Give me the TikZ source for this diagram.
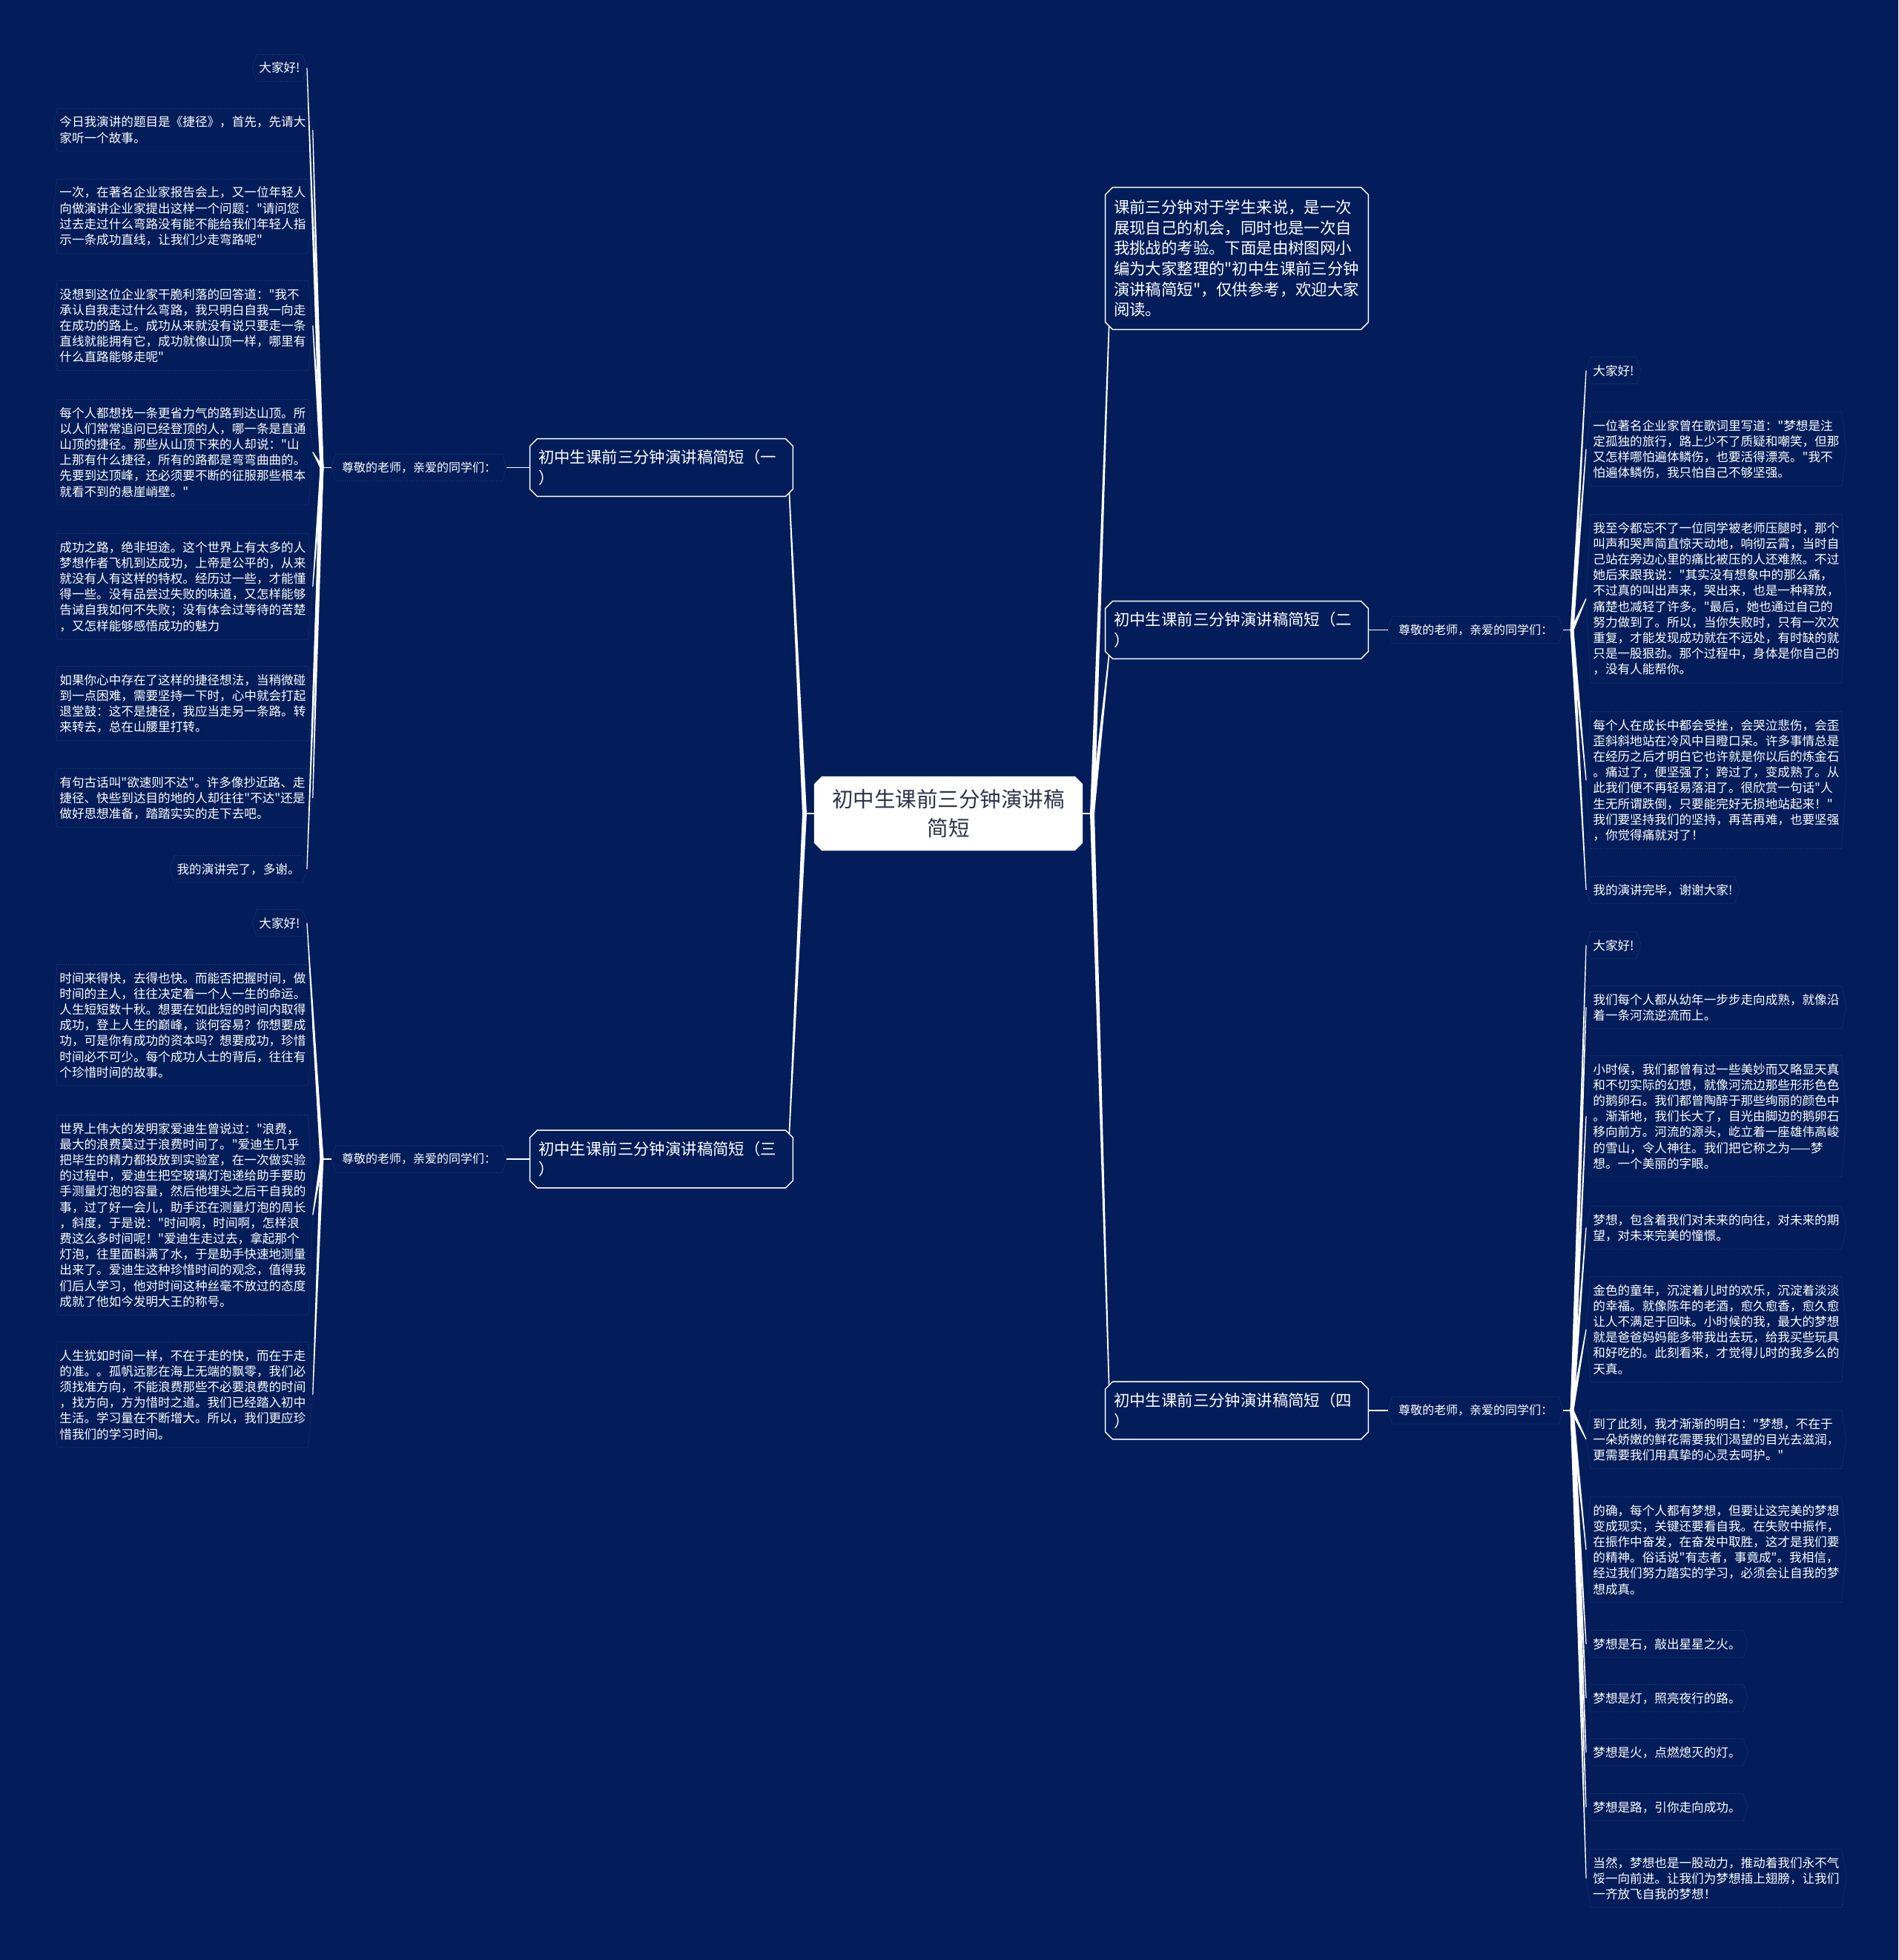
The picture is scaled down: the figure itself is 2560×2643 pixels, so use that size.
\documentclass[tikz,border=0pt]{standalone}
\usepackage{fontspec}
\setmainfont{Noto Sans CJK SC}
\newfontfamily\cjkf{Noto Sans CJK SC}
\usetikzlibrary{calc,backgrounds}
\definecolor{bgc}{RGB}{2,29,90}
\definecolor{hexc}{RGB}{40,62,122}
\definecolor{centxt}{RGB}{45,50,75}
\newcommand\leaffont{\cjkf\fontsize{8.3pt}{10.6pt}\selectfont}
\newcommand\midfont{\cjkf\fontsize{8pt}{10pt}\selectfont}
\newcommand\brfont{\cjkf\fontsize{10.7pt}{13.85pt}\selectfont}
\newcommand\cenfont{\cjkf\fontsize{14.25pt}{19.5pt}\selectfont}
\newcommand\hexo[1]{%
  \draw[hexline] (#1.north west) -- (#1.north east) -- ([xshift=3pt]#1.east) -- (#1.south east) -- (#1.south west) -- ([xshift=-3pt]#1.west) -- cycle;
  \coordinate (#1-e) at ([xshift=3pt]#1.east);
  \coordinate (#1-w) at ([xshift=-3pt]#1.west);}
\newcommand\chamf[2]{%
  \begin{scope}[on background layer]
  \path[#2] ([xshift=5pt]#1.north west) -- ([xshift=-5pt]#1.north east) -- ([yshift=-5pt]#1.north east) -- ([yshift=5pt]#1.south east) -- ([xshift=-5pt]#1.south east) -- ([xshift=5pt]#1.south west) -- ([yshift=5pt]#1.south west) -- ([yshift=-5pt]#1.north west) -- cycle;
  \end{scope}}
\newcommand\taper[4]{\fill[white] ($(#1)!#3!90:(#2)$) -- ($(#2)!#4!-90:(#1)$) -- ($(#2)!#4!90:(#1)$) -- ($(#1)!#3!-90:(#2)$) -- cycle;}
\begin{document}
\begin{tikzpicture}[x=0.5pt,y=-0.5pt,
  leafnode/.style={rectangle,inner xsep=1.5pt,inner ysep=5pt,text=white,font=\leaffont,align=left},
  leafwide/.style={leafnode,text width=166pt},
  midnode/.style={rectangle,inner xsep=4pt,inner ysep=5pt,text=white,font=\midfont},
  branch/.style={rectangle,inner xsep=5.5pt,text width=166pt,minimum height=38.5pt,text=white,font=\brfont,align=left},
  hexline/.style={draw=hexc,densely dotted,line width=0.5pt},
  conn/.style={draw=white,line width=0.9pt}]
\begin{scope}[on background layer]
\fill[bgc] (0,0) rectangle (2560,2643);
\end{scope}
\useasboundingbox (0,0) rectangle (2560,2643);

% center and branches
\node[font=\cenfont,text=centxt,align=center,minimum width=180pt,minimum height=49pt,inner sep=0pt] (cen) at (1279,1097) {初中生课前三分钟演讲稿\\简短};
\node[branch,minimum height=95.5pt] (intro) at (1668,348.5) {课前三分钟对于学生来说，是一次\\展现自己的机会，同时也是一次自\\我挑战的考验。下面是由树图网小\\编为大家整理的"初中生课前三分钟\\演讲稿简短"，仅供参考，欢迎大家\\阅读。};
\node[branch] (b1) at (892,630.5) {初中生课前三分钟演讲稿简短（一\\）};
\node[branch] (b3) at (892,1563) {初中生课前三分钟演讲稿简短（三\\）};
\node[branch] (b2) at (1668,849.5) {初中生课前三分钟演讲稿简短（二\\）};
\node[branch] (b4) at (1668,1902) {初中生课前三分钟演讲稿简短（四\\）};
\chamf{cen}{fill=white,draw=white,line width=0.7pt}
\foreach \n in {intro,b1,b2,b3,b4} {\chamf{\n}{draw=white,line width=0.7pt}}

% second level
\node[midnode] (s1) at (565,630.5) {尊敬的老师，亲爱的同学们：};
\node[midnode] (s3) at (565,1563) {尊敬的老师，亲爱的同学们：};
\node[midnode] (s2) at (1990,849.5) {尊敬的老师，亲爱的同学们：};
\node[midnode] (s4) at (1990,1902) {尊敬的老师，亲爱的同学们：};

% left leaves, group 1
\node[leafnode,anchor=base east] (L1a) at (408,98) {大家好!};
\node[leafwide,anchor=base west] (L1b) at (77,171) {今日我演讲的题目是《捷径》，首先，先请大\\家听一个故事。};
\node[leafwide,anchor=base west] (L1c) at (77,266) {一次，在著名企业家报告会上，又一位年轻人\\向做演讲企业家提出这样一个问题："请问您\\过去走过什么弯路没有能不能给我们年轻人指\\示一条成功直线，让我们少走弯路呢"};
\node[leafwide,anchor=base west] (L1d) at (77,403) {没想到这位企业家干脆利落的回答道："我不\\承认自我走过什么弯路，我只明白自我一向走\\在成功的路上。成功从来就没有说只要走一条\\直线就能拥有它，成功就像山顶一样，哪里有\\什么直路能够走呢"};
\node[leafwide,anchor=base west] (L1e) at (77,563) {每个人都想找一条更省力气的路到达山顶。所\\以人们常常追问已经登顶的人，哪一条是直通\\山顶的捷径。那些从山顶下来的人却说："山\\上那有什么捷径，所有的路都是弯弯曲曲的。\\先要到达顶峰，还必须要不断的征服那些根本\\就看不到的悬崖峭壁。"};
\node[leafwide,anchor=base west] (L1f) at (77,744) {成功之路，绝非坦途。这个世界上有太多的人\\梦想作者飞机到达成功，上帝是公平的，从来\\就没有人有这样的特权。经历过一些，才能懂\\得一些。没有品尝过失败的味道，又怎样能够\\告诫自我如何不失败；没有体会过等待的苦楚\\，又怎样能够感悟成功的魅力};
\node[leafwide,anchor=base west] (L1g) at (77,923) {如果你心中存在了这样的捷径想法，当稍微碰\\到一点困难，需要坚持一下时，心中就会打起\\退堂鼓：这不是捷径，我应当走另一条路。转\\来转去，总在山腰里打转。};
\node[leafwide,anchor=base west] (L1h) at (77,1061) {有句古话叫"欲速则不达"。许多像抄近路、走\\捷径、快些到达目的地的人却往往"不达"还是\\做好思想准备，踏踏实实的走下去吧。};
\node[leafnode,anchor=base east] (L1i) at (408,1178) {我的演讲完了，多谢。};

% left leaves, group 3
\node[leafnode,anchor=base east] (L3a) at (408,1251) {大家好!};
\node[leafwide,anchor=base west] (L3b) at (77,1325) {时间来得快，去得也快。而能否把握时间，做\\时间的主人，往往决定着一个人一生的命运。\\人生短短数十秋。想要在如此短的时间内取得\\成功，登上人生的巅峰，谈何容易？你想要成\\功，可是你有成功的资本吗？想要成功，珍惜\\时间必不可少。每个成功人士的背后，往往有\\个珍惜时间的故事。};
\node[leafwide,anchor=base west] (L3c) at (77,1528) {世界上伟大的发明家爱迪生曾说过："浪费，\\最大的浪费莫过于浪费时间了。"爱迪生几乎\\把毕生的精力都投放到实验室，在一次做实验\\的过程中，爱迪生把空玻璃灯泡递给助手要助\\手测量灯泡的容量，然后他埋头之后干自我的\\事，过了好一会儿，助手还在测量灯泡的周长\\，斜度，于是说："时间啊，时间啊，怎样浪\\费这么多时间呢！"爱迪生走过去，拿起那个\\灯泡，往里面斟满了水，于是助手快速地测量\\出来了。爱迪生这种珍惜时间的观念，值得我\\们后人学习，他对时间这种丝毫不放过的态度\\成就了他如今发明大王的称号。};
\node[leafwide,anchor=base west] (L3d) at (77,1834) {人生犹如时间一样，不在于走的快，而在于走\\的准。。孤帆远影在海上无端的飘零，我们必\\须找准方向，不能浪费那些不必要浪费的时间\\，找方向，方为惜时之道。我们已经踏入初中\\生活。学习量在不断增大。所以，我们更应珍\\惜我们的学习时间。};

% right leaves, group 2
\node[leafnode,anchor=base west] (R2a) at (2145,506) {大家好!};
\node[leafwide,anchor=base west] (R2b) at (2145,580) {一位著名企业家曾在歌词里写道："梦想是注\\定孤独的旅行，路上少不了质疑和嘲笑，但那\\又怎样哪怕遍体鳞伤，也要活得漂亮。"我不\\怕遍体鳞伤，我只怕自己不够坚强。};
\node[leafwide,anchor=base west] (R2c) at (2145,718) {我至今都忘不了一位同学被老师压腿时，那个\\叫声和哭声简直惊天动地，响彻云霄，当时自\\己站在旁边心里的痛比被压的人还难熬。不过\\她后来跟我说："其实没有想象中的那么痛，\\不过真的叫出声来，哭出来，也是一种释放，\\痛楚也减轻了许多。"最后，她也通过自己的\\努力做到了。所以，当你失败时，只有一次次\\重复，才能发现成功就在不远处，有时缺的就\\只是一股狠劲。那个过程中，身体是你自己的\\，没有人能帮你。};
\node[leafwide,anchor=base west] (R2d) at (2145,984) {每个人在成长中都会受挫，会哭泣悲伤，会歪\\歪斜斜地站在冷风中目瞪口呆。许多事情总是\\在经历之后才明白它也许就是你以后的炼金石\\。痛过了，便坚强了；跨过了，变成熟了。从\\此我们便不再轻易落泪了。很欣赏一句话"人\\生无所谓跌倒，只要能完好无损地站起来！"\\我们要坚持我们的坚持，再苦再难，也要坚强\\，你觉得痛就对了！};
\node[leafnode,anchor=base west] (R2e) at (2145,1206) {我的演讲完毕，谢谢大家!};

% right leaves, group 4
\node[leafnode,anchor=base west] (R4a) at (2145,1281) {大家好!};
\node[leafwide,anchor=base west] (R4b) at (2145,1354) {我们每个人都从幼年一步步走向成熟，就像沿\\着一条河流逆流而上。};
\node[leafwide,anchor=base west] (R4c) at (2145,1448) {小时候，我们都曾有过一些美妙而又略显天真\\和不切实际的幻想，就像河流边那些形形色色\\的鹅卵石。我们都曾陶醉于那些绚丽的颜色中\\。渐渐地，我们长大了，目光由脚边的鹅卵石\\移向前方。河流的源头，屹立着一座雄伟高峻\\的雪山，令人神往。我们把它称之为——梦\\想。一个美丽的字眼。};
\node[leafwide,anchor=base west] (R4d) at (2145,1651) {梦想，包含着我们对未来的向往，对未来的期\\望，对未来完美的憧憬。};
\node[leafwide,anchor=base west] (R4e) at (2145,1746) {金色的童年，沉淀着儿时的欢乐，沉淀着淡淡\\的幸福。就像陈年的老酒，愈久愈香，愈久愈\\让人不满足于回味。小时候的我，最大的梦想\\就是爸爸妈妈能多带我出去玩，给我买些玩具\\和好吃的。此刻看来，才觉得儿时的我多么的\\天真。};
\node[leafwide,anchor=base west] (R4f) at (2145,1926) {到了此刻，我才渐渐的明白："梦想，不在于\\一朵娇嫩的鲜花需要我们渴望的目光去滋润，\\更需要我们用真挚的心灵去呵护。"};
\node[leafwide,anchor=base west] (R4g) at (2145,2043) {的确，每个人都有梦想，但要让这完美的梦想\\变成现实，关键还要看自我。在失败中振作，\\在振作中奋发，在奋发中取胜，这才是我们要\\的精神。俗话说"有志者，事竟成"。我相信，\\经过我们努力踏实的学习，必须会让自我的梦\\想成真。};
\node[leafnode,anchor=base west] (R4h) at (2145,2223) {梦想是石，敲出星星之火。};
\node[leafnode,anchor=base west] (R4i) at (2145,2296) {梦想是灯，照亮夜行的路。};
\node[leafnode,anchor=base west] (R4j) at (2145,2369) {梦想是火，点燃熄灭的灯。};
\node[leafnode,anchor=base west] (R4k) at (2145,2443) {梦想是路，引你走向成功。};
\node[leafwide,anchor=base west] (R4l) at (2145,2518) {当然，梦想也是一股动力，推动着我们永不气\\馁一向前进。让我们为梦想插上翅膀，让我们\\一齐放飞自我的梦想！};

% hex outlines
\foreach \n in {s1,s2,s3,s4,L1a,L1b,L1c,L1d,L1e,L1f,L1g,L1h,L1i,L3a,L3b,L3c,L3d,R2a,R2b,R2c,R2d,R2e,R4a,R4b,R4c,R4d,R4e,R4f,R4g,R4h,R4i,R4j,R4k,R4l} {\hexo{\n}}

% connectors: center to branches
\coordinate (cl) at (1085,1097);
\coordinate (cr) at (1473,1097);
\coordinate (b1c) at ([xshift=-2.5pt,yshift=2.5pt]b1.south east);
\coordinate (b3c) at ([xshift=-2.5pt,yshift=-2.5pt]b3.north east);
\coordinate (ic) at ([xshift=2.5pt,yshift=2.5pt]intro.south west);
\coordinate (b2c) at ([xshift=2.5pt,yshift=2.5pt]b2.south west);
\coordinate (b4c) at ([xshift=2.5pt,yshift=-2.5pt]b4.north west);
\draw[conn] (cen.west) -- (cl);
\draw[conn] (cen.east) -- (cr);
\foreach \n in {b1c,b3c} {\taper{cl}{\n}{1.5pt}{0.4pt}}
\foreach \n in {ic,b2c,b4c} {\taper{cr}{\n}{1.5pt}{0.4pt}}

% branches to second level
\draw[conn] (b1.west) -- (s1-e);
\draw[conn] (b3.west) -- (s3-e);
\draw[conn] (b2.east) -- (s2-w);
\draw[conn] (b4.east) -- (s4-w);

% second level to leaves
\coordinate (j1) at (434,630.5);
\coordinate (j3) at (434,1563);
\coordinate (j2) at (2120,849.5);
\coordinate (j4) at (2120,1902);
\draw[conn] (s1-w) -- (j1);
\draw[conn] (s3-w) -- (j3);
\draw[conn] (s2-e) -- (j2);
\draw[conn] (s4-e) -- (j4);
\foreach \n in {L1a,L1b,L1c,L1d,L1e,L1f,L1g,L1h,L1i} {\taper{j1}{\n-e}{1.2pt}{0.3pt}}
\foreach \n in {L3a,L3b,L3c,L3d} {\taper{j3}{\n-e}{1.2pt}{0.3pt}}
\foreach \n in {R2a,R2b,R2c,R2d,R2e} {\taper{j2}{\n-w}{1.2pt}{0.3pt}}
\foreach \n in {R4a,R4b,R4c,R4d,R4e,R4f,R4g,R4h,R4i,R4j,R4k,R4l} {\taper{j4}{\n-w}{1.2pt}{0.3pt}}
\end{tikzpicture}
\end{document}
